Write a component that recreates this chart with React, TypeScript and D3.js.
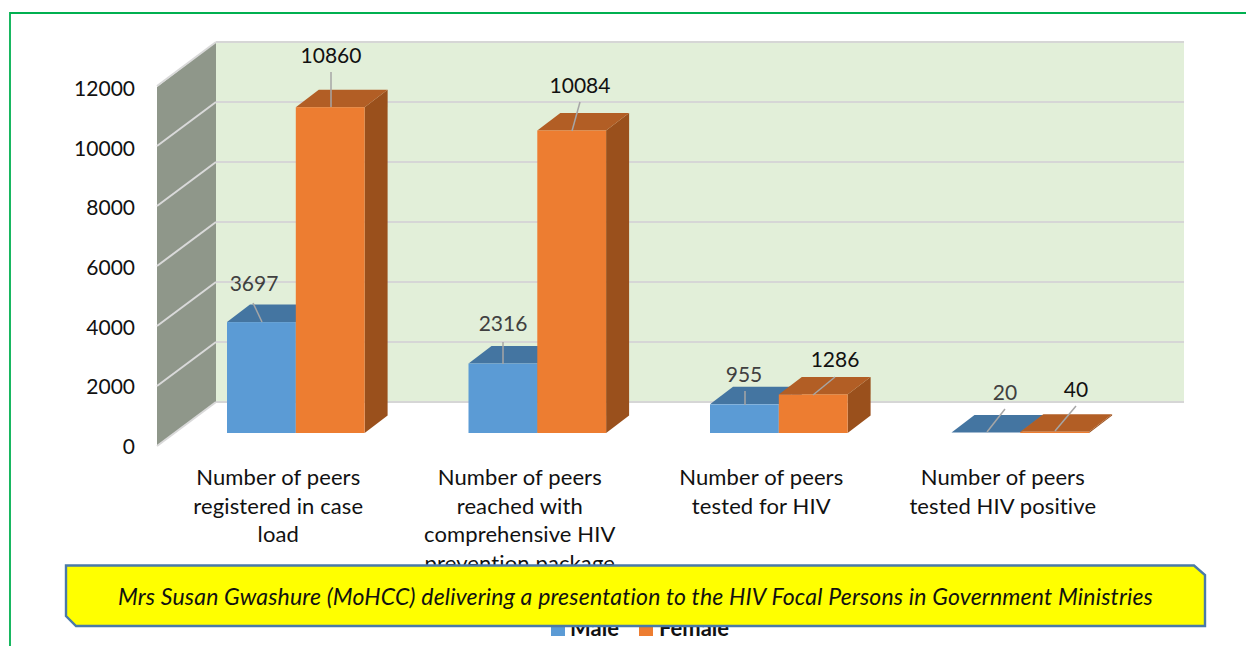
import React from "react";
import * as d3 from "d3";

const categories = [
  ["Number of peers", "registered in case", "load"],
  ["Number of peers", "reached with", "comprehensive HIV", "prevention package"],
  ["Number of peers", "tested for HIV"],
  ["Number of peers", "tested HIV positive"],
];
const male = [3697, 2316, 955, 20];
const female = [10860, 10084, 1286, 40];
const yTicks = [0, 2000, 4000, 6000, 8000, 10000, 12000];
const caption = "Mrs Susan Gwashure (MoHCC) delivering a presentation to the HIV Focal Persons in Government Ministries";

const FONT = "Lato, 'Noto Sans', sans-serif";
const y = d3.scaleLinear().domain([0, 12000]).range([0, -360]);
const yLabel = d3.scaleLinear().domain([0, 12000]).range([445.5, 87.5]);
const xBand = d3.scaleBand<number>().domain([0, 1, 2, 3]).range([227, 1193]).paddingInner(0).paddingOuter(0).align(0);
const barW = 68.8;
const baseY = 433;
const dx = 23;
const dy = -17.5;

const wall = { left: 216, right: 1184, top: 42, bottom: 402 };
const side = { x: 157, dy: 44 };

function Bar({ x, v, front, top, right }: { x: number; v: number; front: string; top: string; right: string }) {
  const h = y(v);
  const yT = baseY + h;
  return (
    <g>
      <polygon points={`${x + barW},${baseY} ${x + barW + dx},${baseY + dy} ${x + barW + dx},${yT + dy} ${x + barW},${yT}`} fill={right} />
      <polygon points={`${x},${yT} ${x + dx},${yT + dy} ${x + barW + dx},${yT + dy} ${x + barW},${yT}`} fill={top} />
      {-h > 0.8 && <rect x={x} y={yT} width={barW} height={-h} fill={front} />}
    </g>
  );
}

const maleLabels = [
  { tx: 254, ty: 282.5, l: [[253, 303], [262, 322]] },
  { tx: 503, ty: 322.5, l: [[503, 342], [503, 364]] },
  { tx: 744, ty: 373.5, l: [[745, 391], [745, 405]] },
  { tx: 1005, ty: 391.5, l: [[1005, 409], [987, 432]] },
];
const femaleLabels = [
  { tx: 331, ty: 54.5, l: [[331, 72], [331, 107]] },
  { tx: 580, ty: 84.5, l: [[580, 102], [572, 131]] },
  { tx: 835, ty: 358.5, l: [[835, 377], [813, 395]] },
  { tx: 1076, ty: 388.5, l: [[1076, 406], [1055, 431]] },
];

export default function App() {
  return (
    <svg width={1246} height={646} style={{ position: "absolute", left: 0, top: 0, background: "#fff" }} fontFamily={FONT}>
      <path d="M10,646 V13 H1246" fill="none" stroke="#00b050" strokeWidth={1.8} />
      <rect x={wall.left} y={wall.top} width={wall.right - wall.left} height={wall.bottom - wall.top} fill="#e2efd9" />
      <polygon points={`${side.x},${wall.top + side.dy + 1} ${wall.left},${wall.top} ${wall.left},${wall.bottom} ${side.x},${wall.bottom + side.dy}`} fill="#8f978a" />
      {yTicks.map((t) => {
        const gy = wall.bottom + y(t);
        return (
          <g key={t}>
            <line x1={wall.left} x2={wall.right} y1={gy} y2={gy} stroke="#d6d6d6" strokeWidth={2} />
            <line x1={side.x} x2={wall.left} y1={gy + side.dy} y2={gy} stroke="#d9d9d9" strokeWidth={2} />
            <text x={135} y={yLabel(t)} fontSize={21} textAnchor="end" dominantBaseline="central" fill="#111">{t}</text>
          </g>
        );
      })}
      {male.map((v, i) => {
        const x = xBand(i)!;
        return (
          <g key={i}>
            <Bar x={x} v={v} front="#5b9bd5" top="#4475a1" right="#3f6d96" />
            <Bar x={x + barW} v={female[i]} front="#ed7d31" top="#b25e25" right="#9a501c" />
          </g>
        );
      })}
      {male.map((v, i) => (
        <g key={i}>
          <line x1={maleLabels[i].l[0][0]} y1={maleLabels[i].l[0][1]} x2={maleLabels[i].l[1][0]} y2={maleLabels[i].l[1][1]} stroke="#a6a6a6" strokeWidth={1.5} />
          <text x={maleLabels[i].tx} y={maleLabels[i].ty} fontSize={21} textAnchor="middle" dominantBaseline="central" fill="#404040">{v}</text>
          <line x1={femaleLabels[i].l[0][0]} y1={femaleLabels[i].l[0][1]} x2={femaleLabels[i].l[1][0]} y2={femaleLabels[i].l[1][1]} stroke="#a6a6a6" strokeWidth={1.5} />
          <text x={femaleLabels[i].tx} y={femaleLabels[i].ty} fontSize={21} textAnchor="middle" dominantBaseline="central" fill="#111">{female[i]}</text>
        </g>
      ))}
      {categories.map((lines, i) => (
        <text key={i} fontSize={22} letterSpacing={0.12} textAnchor="middle" fill="#111">
          {lines.map((s, j) => (
            <tspan key={j} x={xBand(i)! + barW - 17.5} y={485 + j * 28.7}>{s}</tspan>
          ))}
        </text>
      ))}
      <rect x={551} y={623} width={14} height={13} fill="#5b9bd5" />
      <text x={570} y={636} fontSize={22} fontWeight={700} fill="#111">Male</text>
      <rect x={639} y={623} width={14} height={13} fill="#ed7d31" />
      <text x={659} y={636} fontSize={22} fontWeight={700} fill="#111">Female</text>
      <path d="M66,565.5 H1194 L1205,575 V626 H76 L66,616 Z" fill="#ffff00" stroke="#4a7aa8" strokeWidth={2.4} />
      <text x={635.5} y={596} fontSize={23} letterSpacing={0.19} fontStyle="italic" textAnchor="middle" dominantBaseline="central" fill="#111">{caption}</text>
    </svg>
  );
}
